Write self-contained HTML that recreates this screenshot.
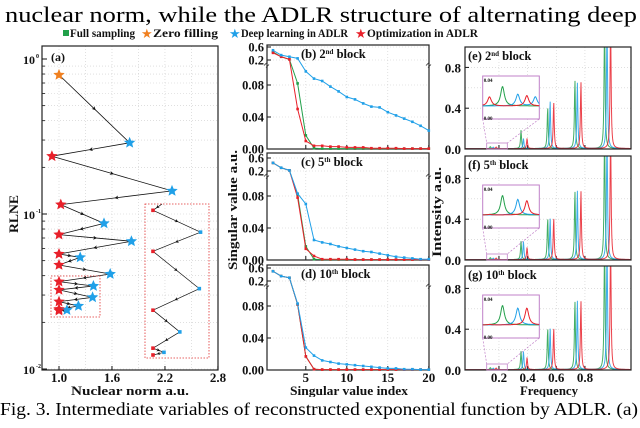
<!DOCTYPE html>
<html><head><meta charset="utf-8"><style>
html,body{margin:0;padding:0;background:#fff;}
svg,text{font-family:"Liberation Serif","Times New Roman",Times,"Nimbus Roman",serif;}
.t{font-weight:bold;font-size:12px;fill:#111;}
.l{font-weight:bold;font-size:13px;fill:#111;}
</style></head><body>
<svg id="fig" width="640" height="423" viewBox="0 0 640 423" font-family="Liberation Serif, Times New Roman, serif">
<defs>
<marker id="arr" viewBox="0 0 10 10" refX="5" refY="5" markerWidth="5" markerHeight="5" orient="auto"><path d="M0,0 L10,5 L0,10 L3,5 z" fill="#111"/></marker>
<clipPath id="ce"><rect x="465" y="47" width="166" height="102"/></clipPath>
<clipPath id="cf"><rect x="465" y="156" width="166" height="104"/></clipPath>
<clipPath id="cg"><rect x="465" y="266" width="166" height="104"/></clipPath>
</defs>
<text x="5" y="22" font-size="22" textLength="632" lengthAdjust="spacingAndGlyphs">nuclear norm, while the ADLR structure of alternating deep</text>
<text class="l" x="130" y="395" text-anchor="middle" textLength="118" lengthAdjust="spacingAndGlyphs">Nuclear norm a.u.</text>
<text class="l" x="349" y="395" text-anchor="middle" textLength="118" lengthAdjust="spacingAndGlyphs">Singular value index</text>
<text class="l" x="549" y="395" text-anchor="middle" textLength="58" lengthAdjust="spacingAndGlyphs">Frequency</text>
<rect x="0" y="397" width="640" height="26" fill="#fff"/>
<text x="0" y="415" font-size="18" textLength="638" lengthAdjust="spacingAndGlyphs">Fig. 3. Intermediate variables of reconstructed exponential function by ADLR. (a)</text>
<g>
<rect x="63" y="30" width="6" height="6" fill="#22a04a"/>
<text class="t" x="70" y="37" textLength="65" lengthAdjust="spacingAndGlyphs">Full sampling</text>
<text x="141" y="38" style="fill:#f08020" font-size="13">★</text>
<text class="t" x="153" y="37" textLength="65" lengthAdjust="spacingAndGlyphs">Zero filling</text>
<text x="229" y="38" style="fill:#20a0e8" font-size="13">★</text>
<text class="t" x="241" y="37" textLength="107" lengthAdjust="spacingAndGlyphs">Deep learning in ADLR</text>
<text x="355" y="38" style="fill:#e8202a" font-size="13">★</text>
<text class="t" x="367" y="37" textLength="111" lengthAdjust="spacingAndGlyphs">Optimization in ADLR</text>
</g>
<g id="gA"></g>
<g id="gS"></g>
<g id="gF"></g>
<text class="l" transform="translate(18,214) rotate(-90)" text-anchor="middle" textLength="38" lengthAdjust="spacingAndGlyphs">RLNE</text>
<text class="l" transform="translate(237,210) rotate(-90)" text-anchor="middle" textLength="120" lengthAdjust="spacingAndGlyphs">Singular value a.u.</text>
<text class="l" transform="translate(441,212) rotate(-90)" text-anchor="middle" textLength="90" lengthAdjust="spacingAndGlyphs">Intensity a.u.</text>
</svg>
<script>
// ---- Panel (a) data ----
const aNorm=[1.0,1.80,0.92,2.28,1.02,1.51,1.0,1.82,1.0,1.24,1.0,1.58,1.0,1.39,1.0,1.38,1.0,1.22,1.0,1.09,1.0];
const aRlne=[0.79,0.288,0.236,0.141,0.115,0.087,0.0736,0.0667,0.0552,0.0525,0.0469,0.041,0.0366,0.0343,0.0324,0.029,0.0272,0.0255,0.0243,0.024,0.0238];
const aKind=['z','b','r','b','r','b','r','b','r','b','r','b','r','b','r','b','r','b','r','b','r'];
const aXTicks=['1.0','1.6','2.2','2.8'];
const aXTickVals=[1.0,1.6,2.2,2.8];
const aInsetStart=12;
// ---- Singular value data (b,c,d) ----
const svIndex=[1,2,3,4,5,6,7,8,9,10,11,12,13,14,15,16,17,18,19,20];
const bBlue=[0.5,0.35,0.3,0.25,0.097,0.088,0.085,0.078,0.072,0.065,0.062,0.057,0.053,0.052,0.046,0.042,0.038,0.034,0.029,0.023];
const bGreen=[0.45,0.3,0.22,0.082,0.017,0.001,0.0005,0.0005,0.0005,0.0005,0.0005,0.0005,0.0005,0.0005,0.0005,0.0005,0.0005,0.0005,0.0005,0.0005];
const bRed=[0.42,0.3,0.22,0.05,0.01,0.004,0.004,0.003,0.003,0.002,0.002,0.002,0.001,0.001,0.001,0.001,0.0005,0.0005,0.0005,0.0005];
const cBlue=[0.45,0.3,0.22,0.083,0.07,0.025,0.022,0.02,0.017,0.015,0.013,0.011,0.01,0.008,0.006,0.004,0.003,0.002,0.001,0.001];
const cGreen=[0.45,0.3,0.22,0.082,0.017,0.001,0.0005,0.0005,0.0005,0.0005,0.0005,0.0005,0.0005,0.0005,0.0005,0.0005,0.0005,0.0005,0.0005,0.0005];
const cRed=[0.45,0.3,0.22,0.078,0.014,0.005,0.001,0.001,0.001,0.001,0.0005,0.0005,0.0005,0.0005,0.0005,0.0005,0.0005,0.0005,0.0005,0.0005];
const dBlue=[0.5,0.35,0.3,0.083,0.028,0.018,0.012,0.01,0.008,0.007,0.006,0.005,0.004,0.003,0.002,0.002,0.001,0.001,0.0005,0.0005];
const dGreen=[0.5,0.35,0.3,0.082,0.017,0.001,0.0005,0.0005,0.0005,0.0005,0.0005,0.0005,0.0005,0.0005,0.0005,0.0005,0.0005,0.0005,0.0005,0.0005];
const dRed=[0.5,0.35,0.3,0.082,0.017,0.001,0.0005,0.0005,0.0005,0.0005,0.0005,0.0005,0.0005,0.0005,0.0005,0.0005,0.0005,0.0005,0.0005,0.0005];
const svYTicks=['0.00','0.04','0.08','0.2','0.6'];
const svYTickVals=[0,0.04,0.08,0.2,0.6];
const svXTicks=['5','10','15','20'];
const svXTickVals=[5,10,15,20];
// ---- Spectrum data (e,f,g) ----
const greenCenters=[0.14,0.354,0.54,0.73,0.937];
const blueCenters=[0.16,0.371,0.557,0.747,0.954];
const redCenters=[0.18,0.396,0.582,0.772,0.979];
const eGreenAmp=[0.02,0.18,0.41,0.68,1.3];
const eBlueAmp=[0.015,0.1,0.47,0.65,1.3];
const eRedAmp=[0.015,0.1,0.46,0.66,1.3];
const fGreenAmp=[0.02,0.18,0.41,0.68,1.3];
const fBlueAmp=[0.015,0.18,0.41,0.68,1.3];
const fRedAmp=[0.015,0.12,0.41,0.68,1.3];
const gGreenAmp=[0.02,0.18,0.41,0.68,1.3];
const gBlueAmp=[0.015,0.18,0.41,0.68,1.3];
const gRedAmp=[0.015,0.12,0.41,0.68,1.3];
const spYTicks=['0.0','0.4','0.8'];
const spYTickVals=[0,0.4,0.8];
const spXTicks=['0.2','0.4','0.6','0.8'];
const spXTickVals=[0.2,0.4,0.6,0.8];
const insGreenC=[0.35];const insBlueC=[0.62,0.93];const insRedC=[0.12,0.78];
const eInsG=[0.75];const eInsB=[0.45,0.35];const eInsR=[0.35,0.4];
const fInsG=[0.75];const fInsB=[0.6,0.02];const fInsR=[0.02,0.55];
const gInsG=[0.75];const gInsB=[0.65,0.02];const gInsR=[0.02,0.65];

const NS='http://www.w3.org/2000/svg';
function mk(parent,tag,attrs,name){
  const el=document.createElementNS(NS,tag);
  for(const k in attrs) el.setAttribute(k,attrs[k]);
  
  
  parent.appendChild(el);return el;
}
function txt(parent,x,y,s,name,anchor,size){
  const t=mk(parent,'text',{x:x,y:y,'text-anchor':anchor||'middle','font-weight':'bold','font-size':size||13,fill:'#111'},name);
  t.textContent=s;return t;
}
function star(cx,cy,r){let d='';for(let i=0;i<10;i++){const a=-Math.PI/2+i*Math.PI/5;const rr=i%2?r*0.45:r;d+=(i?'L':'M')+(cx+rr*Math.cos(a)).toFixed(1)+','+(cy+rr*Math.sin(a)).toFixed(1);}return d+'Z';}
const COL={z:'#f08020',b:'#20a0e8',r:'#e8202a',g:'#22a04a'};

// ===== Panel a =====
const A=document.getElementById('gA');
const ax=v=>59+(v-1)*88.3, ay=v=>59-Math.log10(v)*155;
const aL=42,aR=218,aT=46,aB=370;
for(let d=-2;d<0;d++)for(let m=1;m<10;m++){const y=ay(m*Math.pow(10,d));mk(A,'line',{x1:aL,x2:aR,y1:y,y2:y,stroke:'#ccc','stroke-width':0.6,'stroke-dasharray':'1,2'},'grid-line-h');mk(A,'line',{x1:aL,x2:aL+3,y1:y,y2:y,stroke:'#111','stroke-width':0.8},'y-minor-tick');}
for(let v=1.0;v<=2.75;v+=0.3){const x=ax(v);mk(A,'line',{x1:x,x2:x,y1:aT,y2:aB,stroke:'#ccc','stroke-width':0.6,'stroke-dasharray':'1,2'},'grid-line-v');}
mk(A,'rect',{x:aL,y:aT,width:aR-aL,height:aB-aT,fill:'none',stroke:'#222','stroke-width':1.2},'panel-a-frame');
aXTickVals.forEach((v,i)=>{const x=ax(v);mk(A,'line',{x1:x,x2:x,y1:aB,y2:aB-4,stroke:'#111'},'x-tick');txt(A,x,382,aXTicks[i],'x-tick-label');});
[0,-1,-2].forEach(e=>{const y=ay(Math.pow(10,e));mk(A,'line',{x1:aL,x2:aL+5,y1:y,y2:y,stroke:'#111'},'y-tick');txt(A,35,y+5,'10','y-tick-label','end',12);txt(A,36,y-1,String(e),'y-tick-exponent','start',6);});
txt(A,58,61,'(a)','panel-a-label','middle',12);
for(let i=0;i<aNorm.length-1;i++){const x1=ax(aNorm[i]),y1=ay(aRlne[i]),x2=ax(aNorm[i+1]),y2=ay(aRlne[i+1]);
  mk(A,'path',{d:`M${x1},${y1}L${(x1+x2)/2},${(y1+y2)/2}L${x2},${y2}`,fill:'none',stroke:'#111','stroke-width':0.8,'marker-mid':'url(#arr)'},'trajectory-segment');}
aNorm.forEach((v,i)=>{mk(A,'path',{d:star(ax(v),ay(aRlne[i]),6),fill:COL[aKind[i]]},'point-'+aKind[i]);});
// zoom boxes
mk(A,'rect',{x:51,y:276,width:49,height:41,fill:'none',stroke:'#e03030','stroke-width':0.8,'stroke-dasharray':'1.5,1.5'},'zoom-source-box');
mk(A,'rect',{x:145,y:204,width:64,height:154,fill:'none',stroke:'#e03030','stroke-width':0.8,'stroke-dasharray':'1.5,1.5'},'zoom-inset-box');
const zx=x=>153+(x-59)*1.38, zy=y=>Math.min(355,212+(y-282)*5.0);
let prev=[162,204];
for(let i=aInsetStart;i<aNorm.length;i++){const X=zx(ax(aNorm[i])),Y=zy(ay(aRlne[i]));
  mk(A,'path',{d:`M${prev[0]},${prev[1]}L${(prev[0]+X)/2},${(prev[1]+Y)/2}L${X},${Y}`,fill:'none',stroke:'#111','stroke-width':0.7,'marker-mid':'url(#arr)'},'inset-segment');
  prev=[X,Y];}
for(let i=aInsetStart;i<aNorm.length;i++){mk(A,'rect',{x:zx(ax(aNorm[i]))-1.8,y:zy(ay(aRlne[i]))-1.8,width:3.6,height:3.6,fill:COL[aKind[i]]},'inset-point');}

// ===== Singular panels =====
const S=document.getElementById('gS');
const sL=267,sR=429;
const sx=i=>273+(i-1)*8.2;
function sv(v,bot){if(v<=0.1)return bot-v*800;if(v<=0.2)return bot-80-(v-0.1)*90;return bot-89-(v-0.2)*32.5;}
const sPanels=[{t:45,b:149,lab:'(b) 2',sup:'nd',s:[bGreen,bRed,bBlue]},{t:153,b:260,lab:'(c) 5',sup:'th',s:[cGreen,cRed,cBlue]},{t:265,b:370,lab:'(d) 10',sup:'th',s:[dGreen,dRed,dBlue]}];
sPanels.forEach(p=>{
  svYTickVals.forEach((v,i)=>{const y=sv(v,p.b);mk(S,'line',{x1:sL,x2:sR,y1:y,y2:y,stroke:'#ccc','stroke-width':0.6,'stroke-dasharray':'1,2'},'grid-line-h');mk(S,'line',{x1:sL,x2:sL+4,y1:y,y2:y,stroke:'#111'},'y-tick');txt(S,264,y+4.5,svYTicks[i],'y-tick-label','end',12.5);});
  svXTickVals.forEach(v=>{const x=sx(v);mk(S,'line',{x1:x,x2:x,y1:p.t,y2:p.b,stroke:'#ccc','stroke-width':0.6,'stroke-dasharray':'1,2'},'grid-line-v');mk(S,'line',{x1:x,x2:x,y1:p.b,y2:p.b-4,stroke:'#111'},'x-tick');});
  mk(S,'rect',{x:sL,y:p.t,width:sR-sL,height:p.b-p.t,fill:'none',stroke:'#222','stroke-width':1.2},'singular-panel-frame');
  const by=sv(0.15,p.b);
  [sL,sR].forEach(x=>{mk(S,'path',{d:`M${x-3},${by+1}l3,-3 M${x-1},${by+3}l3,-3`,stroke:'#333','stroke-width':0.8,fill:'none'},'axis-break');});
  const lt=txt(S,301,p.t+13,p.lab,'panel-label','start',12.5);
  const sp=document.createElementNS(NS,'tspan');sp.setAttribute('dy','-4');sp.setAttribute('font-size','7');sp.textContent=p.sup;lt.appendChild(sp);
  const sp2=document.createElementNS(NS,'tspan');sp2.setAttribute('dy','4');sp2.textContent=' block';lt.appendChild(sp2);
  const cols=[COL.g,COL.r,COL.b];
  p.s.forEach((arr,si)=>{
    const d=arr.map((v,i)=>(i?'L':'M')+sx(svIndex[i])+','+sv(v,p.b)).join('');
    mk(S,'path',{d:d,fill:'none',stroke:cols[si],'stroke-width':1},'series-line');
    arr.forEach((v,i)=>mk(S,'rect',{x:sx(svIndex[i])-1.3,y:sv(v,p.b)-1.3,width:2.6,height:2.6,fill:cols[si]},'series-point'));
  });
});
svXTickVals.forEach((v,i)=>txt(S,sx(v),382,svXTicks[i],'x-tick-label'));

// ===== Spectrum panels =====
const F=document.getElementById('gF');
const fL=465,fR=631;
const fx=f=>470.3+f*143.3;
const gam=0.004;
function spec(f,cs,as){let s=0;for(let k=0;k<cs.length;k++){const d=(f-cs[k])/gam;s+=as[k]/(1+d*d);}return s;}
const fPanels=[{t:47,b:149,id:'ce',lab:'(e) 2',sup:'nd',g:eGreenAmp,bl:eBlueAmp,r:eRedAmp,ig:eInsG,ib:eInsB,ir:eInsR},
{t:156,b:260,id:'cf',lab:'(f) 5',sup:'th',g:fGreenAmp,bl:fBlueAmp,r:fRedAmp,ig:fInsG,ib:fInsB,ir:fInsR},
{t:266,b:370,id:'cg',lab:'(g) 10',sup:'th',g:gGreenAmp,bl:gBlueAmp,r:gRedAmp,ig:gInsG,ib:gInsB,ir:gInsR}];
fPanels.forEach(p=>{
  const fy=v=>p.b-v*102;
  [0.2,0.4,0.6,0.8].forEach(v=>{mk(F,'line',{x1:fL,x2:fR,y1:fy(v),y2:fy(v),stroke:'#ccc','stroke-width':0.6,'stroke-dasharray':'1,2'},'grid-line-h');});
  spXTickVals.forEach(v=>{const x=fx(v);mk(F,'line',{x1:x,x2:x,y1:p.t,y2:p.b,stroke:'#ccc','stroke-width':0.6,'stroke-dasharray':'1,2'},'grid-line-v');mk(F,'line',{x1:x,x2:x,y1:p.b,y2:p.b-4,stroke:'#111'},'x-tick');});
  spYTickVals.forEach((v,i)=>{mk(F,'line',{x1:fL,x2:fL+4,y1:fy(v),y2:fy(v),stroke:'#111'},'y-tick');txt(F,461,fy(v)+5,spYTicks[i],'y-tick-label','end',13);});
  const g=mk(F,'g',{'clip-path':`url(#${p.id})`},'spectrum-lines');
  [[greenCenters,p.g,COL.g],[blueCenters,p.bl,COL.b],[redCenters,p.r,COL.r]].forEach(([cs,as,c])=>{
    let d='';for(let x=fL;x<=fR;x+=0.4){const f=(x-470.3)/143.3;d+=(d?'L':'M')+x.toFixed(1)+','+fy(spec(f,cs,as)+0.004).toFixed(1);}
    mk(g,'path',{d:d,fill:'none',stroke:c,'stroke-width':1,'stroke-opacity':0.85},'spectrum-line');
  });
  mk(F,'rect',{x:fL,y:p.t,width:fR-fL,height:p.b-p.t,fill:'none',stroke:'#222','stroke-width':1.2},'spectrum-panel-frame');
  const lt=txt(F,468,p.t+13,p.lab,'panel-label','start',12.5);
  const sp=document.createElementNS(NS,'tspan');sp.setAttribute('dy','-4');sp.setAttribute('font-size','7');sp.textContent=p.sup;lt.appendChild(sp);
  const sp2=document.createElementNS(NS,'tspan');sp2.setAttribute('dy','4');sp2.textContent=' block';lt.appendChild(sp2);
  const o=p.t+29, ib={x0:482.7,y0:o,x1:539.3,y1:o+43};
  const sbx={x0:486.7,y0:p.b-6,x1:507.3,y1:p.b};
  mk(F,'rect',{x:sbx.x0,y:sbx.y0,width:sbx.x1-sbx.x0,height:6,fill:'none',stroke:'#c080c8','stroke-width':0.8},'inset-source-box');
  mk(F,'path',{d:`M${ib.x0},${ib.y1}L${sbx.x0},${sbx.y0}M${ib.x1},${ib.y1}L${sbx.x1},${sbx.y0}`,stroke:'#c080c8','stroke-width':0.7,'stroke-dasharray':'2,1.5',fill:'none'},'inset-connector');
  mk(F,'rect',{x:ib.x0,y:ib.y0,width:ib.x1-ib.x0,height:ib.y1-ib.y0,fill:'#fff',stroke:'#c080c8','stroke-width':1},'inset-box');
  txt(F,ib.x0+1,ib.y0+6,'0.04','inset-tick-top','start',5);
  txt(F,ib.x0+1,ib.y1+1,'0.00','inset-tick-bottom','start',5);
  const iy=v=>ib.y1-13-v*26;
  [[insGreenC,p.ig,COL.g],[insBlueC,p.ib,COL.b],[insRedC,p.ir,COL.r]].forEach(([cs,as,c])=>{
    let d='';for(let x=ib.x0;x<=ib.x1;x+=0.5){const u=(x-ib.x0)/(ib.x1-ib.x0);let s=0;for(let k=0;k<cs.length;k++){const dd=(u-cs[k])/0.04;s+=as[k]/(1+dd*dd);}d+=(d?'L':'M')+x.toFixed(1)+','+iy(s).toFixed(1);}
    mk(F,'path',{d:d,fill:'none',stroke:c,'stroke-width':1},'inset-line');
  });
});
spXTickVals.forEach((v,i)=>txt(F,fx(v),382,spXTicks[i],'x-tick-label'));
</script>
</body></html>
